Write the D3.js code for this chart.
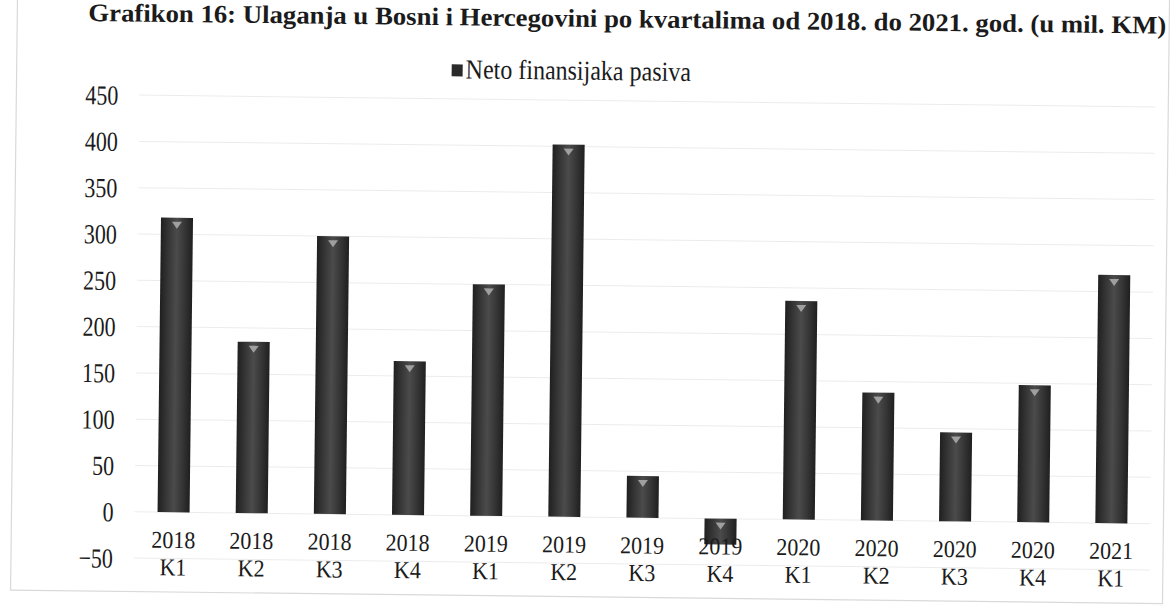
<!DOCTYPE html>
<html>
<head>
<meta charset="utf-8">
<script src="https://cdn.jsdelivr.net/npm/d3@7"></script>
<style>
  body { margin: 0; background: #fff; }
  text { font-family: "Liberation Serif", "Times New Roman", Times, serif; fill: #1b1b1b; }
</style>
</head>
<body>
<div id="chart"></div>
<script>
// chart data
var years = ["2018", "2018", "2018", "2018", "2019", "2019", "2019", "2019", "2020", "2020", "2020", "2020", "2021"];
var quarters = ["K1", "K2", "K3", "K4", "K1", "K2", "K3", "K4", "K1", "K2", "K3", "K4", "K1"];
var values = [318, 185, 300, 166, 250, 402, 45, -28, 236, 138, 96, 148, 268];
var yTicks = [-50, 0, 50, 100, 150, 200, 250, 300, 350, 400, 450];
var seriesName = "Neto finansijaka pasiva";
var title = "Grafikon 16: Ulaganja u Bosni i Hercegovini po kvartalima od 2018. do 2021. god. (u mil. KM)";

var svgWidth = 1170;
var svgHeight = 605;
var serif = "'Liberation Serif', 'Times New Roman', Times, serif";
// the scanned page is stretched a bit vertically, so the texts are too
var stretch = 1.25;
var labelStretch = 1.1;

var categories = years.map((y, i) => y + " " + quarters[i]);

var svg = d3.select("#chart")
    .append("svg")
    .attr("width", svgWidth)
    .attr("height", svgHeight);

// the scan is a little tilted, so the whole page is turned slightly
var page = svg.append("g")
    .attr("transform", "rotate(0.67, 600, 300)");

// faint frame of the chart area
page.append("rect")
    .attr("x", 14)
    .attr("y", -20)
    .attr("width", 1152)
    .attr("height", 617)
    .attr("fill", "none")
    .attr("stroke", "#d9d9d9")
    .attr("stroke-width", 1.2);

var xScale = d3.scaleBand()
    .domain(categories)
    .range([137, 1153])
    .paddingInner(0.59)
    .paddingOuter(0.295);

var yScale = d3.scaleLinear()
    .domain([-50, 450])
    .range([563.5, 100.5]);

// gridlines
page.append("g")
    .selectAll("line")
    .data(yTicks)
    .enter()
    .append("line")
    .attr("x1", 137)
    .attr("x2", 1153)
    .attr("y1", d => yScale(d))
    .attr("y2", d => yScale(d))
    .attr("stroke", "#ececec")
    .attr("stroke-width", 1);

// y axis labels
var leftAxis = d3.axisLeft(yScale).tickValues(yTicks).tickSize(0).tickPadding(0);
var yAxis = page.append("g")
    .attr("transform", "translate(116, 0)")
    .call(leftAxis);
yAxis.select(".domain").remove();
yAxis.selectAll("text")
    .attr("font-family", serif)
    .attr("font-size", 22)
    .attr("dy", "0.34em")
    .attr("transform", `scale(1, ${stretch})`)
    .attr("fill", "#1b1b1b");

// cylinder shading
var defs = svg.append("defs");
var grad = defs.append("linearGradient")
    .attr("id", "cyl")
    .attr("x1", "0%").attr("x2", "100%")
    .attr("y1", "0%").attr("y2", "0%");
[["0%", "#1f1f1f"], ["25%", "#363636"], ["50%", "#4b4b4b"], ["75%", "#363636"], ["100%", "#1f1f1f"]]
    .forEach(s => grad.append("stop").attr("offset", s[0]).attr("stop-color", s[1]));

var bars = page.append("g");

bars.selectAll("rect")
    .data(values)
    .enter()
    .append("rect")
    .attr("x", (d, i) => xScale(categories[i]))
    .attr("y", d => yScale(Math.max(0, d)))
    .attr("width", xScale.bandwidth())
    .attr("height", d => Math.abs(yScale(d) - yScale(0)))
    .attr("fill", "url(#cyl)");

// small light highlight at the top of each column
bars.selectAll("path")
    .data(values)
    .enter()
    .append("path")
    .attr("d", (d, i) => {
        var cx = xScale(categories[i]) + xScale.bandwidth() / 2;
        var top = yScale(Math.max(0, d)) + 4;
        return `M${cx - 5},${top} L${cx + 5},${top} L${cx},${top + 7} Z`;
    })
    .attr("fill", "#b5b5b5")
    .attr("opacity", 0.8);

// category labels: year on the first line, quarter below
var labelRows = [[years, 553], [quarters, 580.5]];
labelRows.forEach(function(row) {
    page.append("g")
        .selectAll("text")
        .data(categories)
        .enter()
        .append("text")
        .attr("text-anchor", "middle")
        .attr("font-family", serif)
        .attr("font-size", 22)
        .attr("transform", d => `translate(${xScale(d) + xScale.bandwidth() / 2}, ${row[1]}) scale(1, ${labelStretch})`)
        .text((d, i) => row[0][i]);
});

// legend
page.append("rect")
    .attr("x", 449)
    .attr("y", 66)
    .attr("width", 11)
    .attr("height", 12)
    .attr("fill", "#2a2a2a");

page.append("text")
    .attr("font-family", serif)
    .attr("font-size", 24)
    .attr("transform", `translate(463, 80) scale(1, 1.15)`)
    .text(seriesName);

// title, sitting right at the top edge of the scan
page.append("text")
    .attr("font-family", serif)
    .attr("font-size", 22)
    .attr("font-weight", "bold")
    .attr("transform", `translate(85, 27) scale(1, 1.15)`)
    .attr("textLength", 1078)
    .attr("lengthAdjust", "spacingAndGlyphs")
    .text(title);
</script>
</body>
</html>
